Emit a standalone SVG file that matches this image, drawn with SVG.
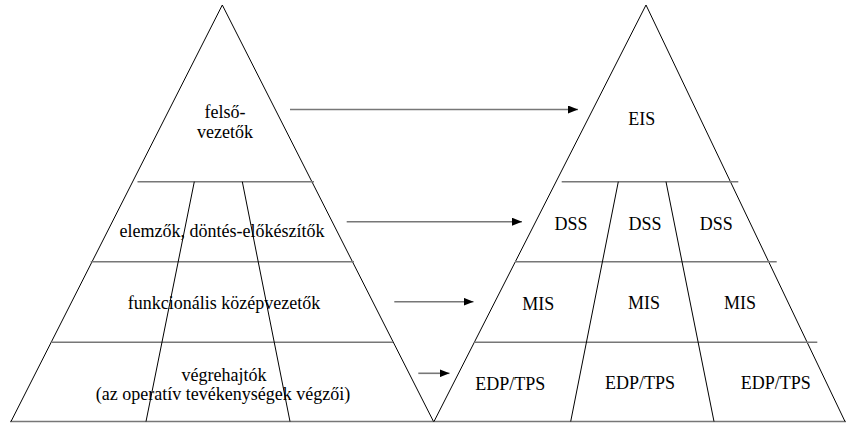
<svg xmlns="http://www.w3.org/2000/svg" width="846" height="423" viewBox="0 0 846 423">
  <defs>
    <marker id="arrowhead" viewBox="0 0 10 8" refX="10" refY="4" markerWidth="10" markerHeight="8" markerUnits="userSpaceOnUse" orient="auto">
      <path d="M0,0 L10,4 L0,8 Z" fill="#000"/>
    </marker>
  </defs>
  <style>
    .edge { stroke: #000; stroke-width: 1; fill: none; }
    .tier { stroke: #777; stroke-width: 1.6; fill: none; }
    .arrow { stroke: #777; stroke-width: 1.6; fill: none; marker-end: url(#arrowhead); }
    .lbl { font-size: 18px; fill: #000; text-anchor: middle; }
  </style>
  <rect width="846" height="423" fill="#fff"/>

  <!-- common base line -->
  <line class="tier" x1="10" y1="421.5" x2="846" y2="421.5"/>

  <!-- organisational pyramid -->
  <g id="org-pyramid">
    <polyline class="edge" points="11,421.5 222.3,5 433.5,421.5"/>
    <line class="tier" x1="137.5" y1="181.7" x2="314" y2="181.7"/>
    <line class="tier" x1="90.7" y1="261.7" x2="354" y2="261.7"/>
    <line class="tier" x1="50.7" y1="342.3" x2="393" y2="342.3"/>
    <line class="edge" x1="194.3" y1="181.7" x2="146" y2="421.5"/>
    <line class="edge" x1="242.3" y1="181.7" x2="290" y2="421.5"/>
  </g>

  <g font-family="'Liberation Serif', Tinos, 'Times New Roman', 'DejaVu Serif', serif">
    <g id="org-top">
      <text class="lbl" x="225" y="118">felső-</text>
      <text class="lbl" x="225" y="138">vezetők</text>
    </g>
    <g id="org-analysts">
      <text class="lbl" x="222" y="236.5">elemzők, döntés-előkészítők</text>
    </g>
    <g id="org-middle">
      <text class="lbl" x="224" y="309">funkcionális középvezetők</text>
    </g>
    <g id="org-operative">
      <text class="lbl" x="224" y="381">végrehajtók</text>
      <text class="lbl" x="223" y="400">(az operatív tevékenységek végzői)</text>
    </g>
    <g id="eis">
      <text class="lbl" x="641.7" y="125">EIS</text>
    </g>
    <g id="dss">
      <text class="lbl" x="571" y="230">DSS</text>
      <text class="lbl" x="645" y="230">DSS</text>
      <text class="lbl" x="716.3" y="230">DSS</text>
    </g>
    <g id="mis">
      <text class="lbl" x="538.3" y="310">MIS</text>
      <text class="lbl" x="644" y="308.5">MIS</text>
      <text class="lbl" x="740" y="308.5">MIS</text>
    </g>
    <g id="edp-tps">
      <text class="lbl" x="510.2" y="390">EDP/TPS</text>
      <text class="lbl" x="640" y="388.5">EDP/TPS</text>
      <text class="lbl" x="775.8" y="388.5">EDP/TPS</text>
    </g>
  </g>

  <!-- information systems pyramid -->
  <g id="is-pyramid">
    <polyline class="edge" points="434,421.5 646,5 845,421.5"/>
    <line class="tier" x1="561.7" y1="181.7" x2="738.3" y2="181.7"/>
    <line class="tier" x1="515" y1="261.7" x2="776.7" y2="261.7"/>
    <line class="tier" x1="474.3" y1="342.3" x2="817.3" y2="342.3"/>
    <line class="edge" x1="618.3" y1="181.7" x2="570.7" y2="421.5"/>
    <line class="edge" x1="666" y1="181.7" x2="714" y2="421.5"/>
  </g>

  <!-- level-to-system connectors -->
  <g id="connectors">
    <line class="arrow" x1="290" y1="109.5" x2="578" y2="109.5"/>
    <line class="arrow" x1="346.7" y1="221.7" x2="522" y2="221.7"/>
    <line class="arrow" x1="394.3" y1="301.7" x2="473.5" y2="301.7"/>
    <line class="arrow" x1="418.3" y1="373.3" x2="449.5" y2="373.3"/>
  </g>
</svg>
